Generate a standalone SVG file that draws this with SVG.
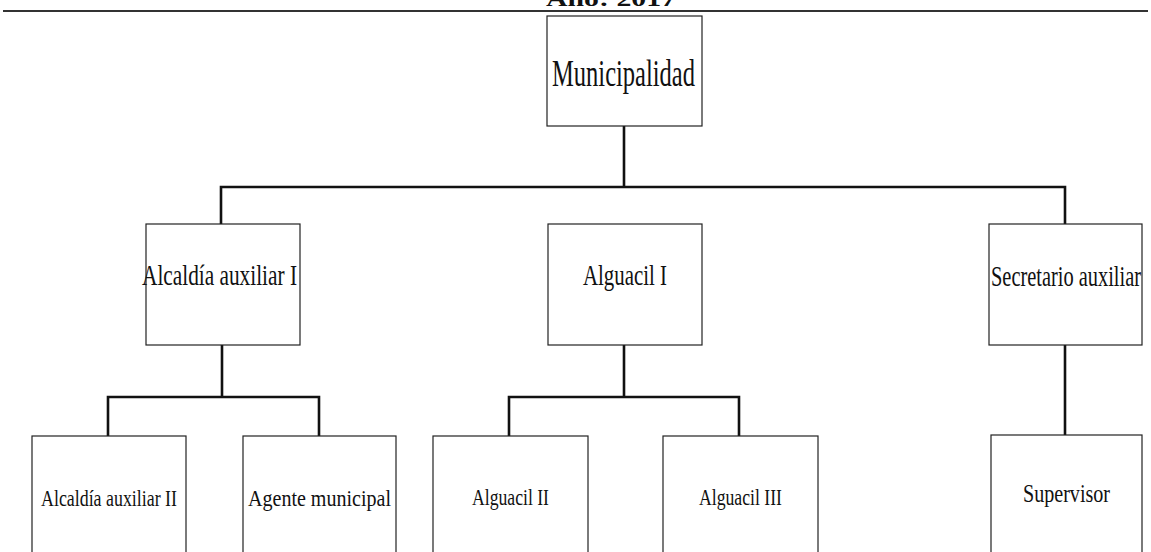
<svg xmlns="http://www.w3.org/2000/svg" width="1151" height="552" viewBox="0 0 1151 552">
<style>
.box{fill:#fff;stroke:#222;stroke-width:1.2}
.lbl{font-family:"Liberation Serif","Times New Roman",serif;fill:#111}
.conn{fill:none;stroke:#111;stroke-width:2.6;stroke-linecap:square}
</style>
<rect width="1151" height="552" fill="#fff"/>
<g id="title">
<text class="lbl" x="611" y="6" font-size="22" font-weight="bold" text-anchor="middle" textLength="130" lengthAdjust="spacingAndGlyphs">Año: 2017</text>
<line x1="3" y1="11" x2="1148" y2="11" stroke="#333" stroke-width="1.8"/>
</g>
<g id="connectors">
<path class="conn" d="M624 126 V187 M221 224 V187 H1065 V224"/>
<path class="conn" d="M222 345 V397 M108 436 V397 H319 V436"/>
<path class="conn" d="M624 345 V397 M509 436 V397 H739 V436"/>
<path class="conn" d="M1065 345 V435"/>
</g>
<g id="n-municipalidad">
<rect class="box" x="547" y="16" width="155" height="110"/>
<text class="lbl" x="552" y="86" font-size="37" textLength="143" lengthAdjust="spacingAndGlyphs">Municipalidad</text>
</g>
<g id="n-alcaldia1">
<rect class="box" x="146" y="224" width="154" height="121"/>
<text class="lbl" x="142" y="285" font-size="28.5" textLength="155" lengthAdjust="spacingAndGlyphs">Alcaldía auxiliar I</text>
</g>
<g id="n-alguacil1">
<rect class="box" x="548" y="224" width="154" height="121"/>
<text class="lbl" x="583" y="285" font-size="28.5" textLength="84" lengthAdjust="spacingAndGlyphs">Alguacil I</text>
</g>
<g id="n-secretario">
<rect class="box" x="989" y="224" width="153" height="121"/>
<text class="lbl" x="991" y="286" font-size="28.5" textLength="150" lengthAdjust="spacingAndGlyphs">Secretario auxiliar</text>
</g>
<g id="n-alcaldia2">
<rect class="box" x="32" y="436" width="154" height="130"/>
<text class="lbl" x="41" y="506" font-size="24" textLength="136" lengthAdjust="spacingAndGlyphs">Alcaldía auxiliar II</text>
</g>
<g id="n-agente">
<rect class="box" x="243" y="436" width="153" height="130"/>
<text class="lbl" x="248" y="506" font-size="24" textLength="143" lengthAdjust="spacingAndGlyphs">Agente municipal</text>
</g>
<g id="n-alguacil2">
<rect class="box" x="433" y="436" width="155" height="130"/>
<text class="lbl" x="472" y="505" font-size="24" textLength="77" lengthAdjust="spacingAndGlyphs">Alguacil II</text>
</g>
<g id="n-alguacil3">
<rect class="box" x="663" y="436" width="155" height="130"/>
<text class="lbl" x="699" y="505" font-size="24" textLength="83" lengthAdjust="spacingAndGlyphs">Alguacil III</text>
</g>
<g id="n-supervisor">
<rect class="box" x="991" y="435" width="151" height="130"/>
<text class="lbl" x="1023" y="502" font-size="26" textLength="87" lengthAdjust="spacingAndGlyphs">Supervisor</text>
</g>
</svg>
